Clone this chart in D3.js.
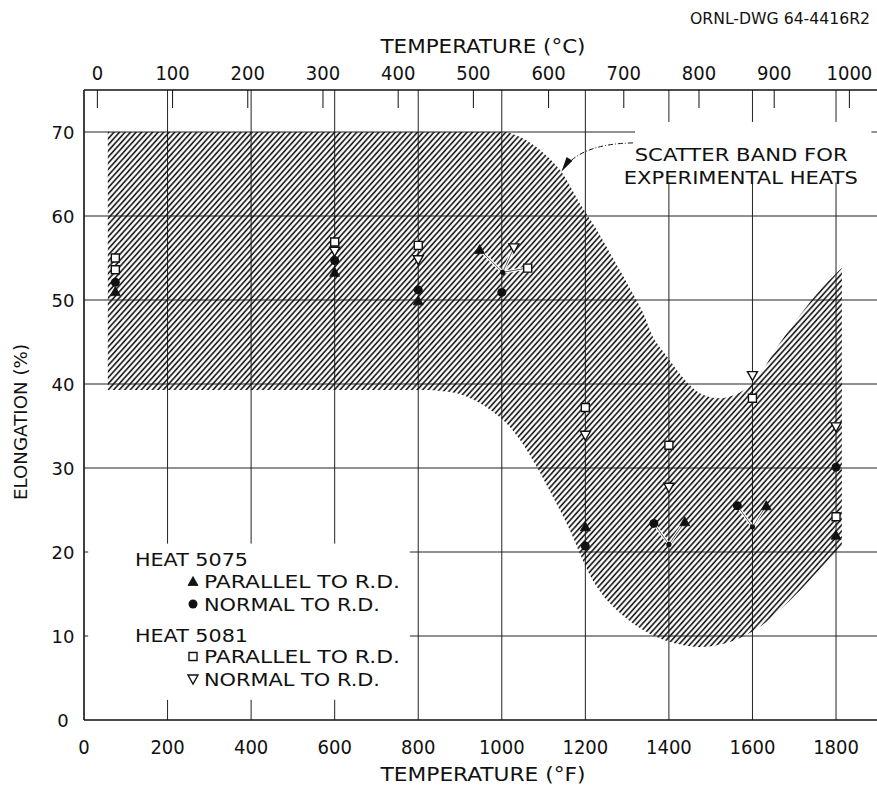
<!DOCTYPE html>
<html><head><meta charset="utf-8">
<script src="https://cdn.jsdelivr.net/npm/d3@7"></script>
<style>
html,body{margin:0;padding:0;background:#fff;}
svg{display:block;}
.num{font-family:"Liberation Sans Narrow","DejaVu Sans Condensed","DejaVu Sans",sans-serif;font-stretch:condensed;fill:#111;}
.lbl{font-family:"DejaVu Sans","Liberation Sans",sans-serif;fill:#111;}
</style></head>
<body>
<svg id="c" width="877" height="789"></svg>
<script>
// ---------- data ----------
const fTicks = [0,200,400,600,800,1000,1200,1400,1600,1800];
const cTicks = [0,100,200,300,400,500,600,700,800,900,1000];
const eTicks = [0,10,20,30,40,50,60,70];

// Heat 5075 parallel to R.D. (filled triangle) [temp °F as plotted, elongation %]
const h5075Par = [[75,51.0],[600,53.3],[800,49.9],[947,56.0],[1200,23.0],[1438,23.6],[1633,25.5],[1800,22.0]];
// Heat 5075 normal to R.D. (filled circle)
const h5075Nor = [[75,52.1],[600,54.7],[800,51.2],[1000,50.9],[1200,20.7],[1364,23.4],[1564,25.5],[1800,30.1]];
// Heat 5081 parallel to R.D. (open square)
const h5081Par = [[75,55.0],[75,53.6],[600,56.9],[800,56.5],[1062,53.8],[1200,37.2],[1400,32.7],[1600,38.3],[1800,24.2]];
// Heat 5081 normal to R.D. (open down triangle)
const h5081Nor = [[600,55.8],[800,54.8],[1029,56.2],[1200,33.9],[1400,27.7],[1600,41.0],[1800,34.9]];

// true locations of displaced points and the displaced symbols leading to them
const leaderDots = [[1002,53.3],[1400,20.9],[1600,23.0]];
const leaderFrom = [[[947,56.0],[1029,56.2],[1062,53.8]],[[1364,23.4],[1438,23.6]],[[1564,25.5],[1633,25.5]]];

// scatter band outline: flat box part + curved upper edge + right edge + curved lower edge
const bandTopFlat = [[57,70],[1010,70]];
const bandUpper = [[1010,70],[1044,69.4],[1091,67.9],[1139,65.5],[1187,61.5],[1228,58.3],[1259,55.6],[1300,52.0],[1338,48.5],[1362,45.6],[1398,43.1],[1438,40.5],[1474,38.9],[1522,38.3],[1570,39.0],[1611,40.7],[1654,44.0],[1714,48.2],[1762,51.2],[1814,53.8]];
const bandLower = [[1814,20.8],[1738,16.7],[1666,13.1],[1606,10.7],[1546,9.3],[1474,8.7],[1403,9.3],[1362,10.1],[1314,11.5],[1266,13.5],[1228,15.8],[1194,19.0],[1163,22.6],[1123,26.5],[1084,30.1],[1044,33.3],[1003,35.7],[948,37.7],[893,38.9],[820,39.3]];
const bandBottomFlat = [[820,39.3],[57,39.3]];

const legendItems = [
  {head:"HEAT 5075"},
  {sym:"tri", text:"PARALLEL TO R.D."},
  {sym:"circ", text:"NORMAL TO R.D."},
  {head:"HEAT 5081"},
  {sym:"sq", text:"PARALLEL TO R.D."},
  {sym:"tdown", text:"NORMAL TO R.D."}
];

// ---------- scales ----------
const svg = d3.select("#c");
const x = d3.scaleLinear().domain([0,1900]).range([84,877.8]);
const y = d3.scaleLinear().domain([0,75]).range([720,90]);
const c2f = c => c*1.8+32;

// hatch pattern
const defs = svg.append("defs");
const pat = defs.append("pattern").attr("id","hatch").attr("patternUnits","userSpaceOnUse")
  .attr("width",4.1).attr("height",10).attr("patternTransform","rotate(42)");
pat.append("line").attr("x1",1).attr("x2",1).attr("y1",-2).attr("y2",12)
  .attr("stroke","#111").attr("stroke-width",1.6);

const gridColor = "#222";
// gridlines
svg.append("g").selectAll("line").data(fTicks.filter(d=>d>0)).join("line")
  .attr("x1",d=>x(d)).attr("x2",d=>x(d)).attr("y1",y(75)).attr("y2",y(0))
  .attr("stroke",gridColor).attr("stroke-width",1);
svg.append("g").selectAll("line").data(eTicks.filter(d=>d>0)).join("line")
  .attr("x1",x(0)).attr("x2",x(1900)).attr("y1",d=>y(d)).attr("y2",d=>y(d))
  .attr("stroke",gridColor).attr("stroke-width",1);

// scatter band
const straight = d3.line().x(d=>x(d[0])).y(d=>y(d[1]));
const curved = d3.line().x(d=>x(d[0])).y(d=>y(d[1])).curve(d3.curveCatmullRom.alpha(0.5));
const bandD = straight(bandTopFlat)
  + curved(bandUpper).replace(/^M/,"L")
  + curved(bandLower).replace(/^M/,"L")
  + straight(bandBottomFlat).replace(/^M/,"L") + "Z";
svg.append("path").attr("d", bandD).attr("fill","url(#hatch)").attr("stroke","none");

// legend white box
svg.append("rect").attr("x",x(10)).attr("y",y(21)).attr("width",x(780)-x(10)).attr("height",y(2.4)-y(21)).attr("fill","#fff");

// frame
svg.append("line").attr("x1",x(0)).attr("x2",x(0)).attr("y1",y(75)).attr("y2",y(0)).attr("stroke","#111").attr("stroke-width",1.6);
svg.append("line").attr("x1",x(0)).attr("x2",x(1900)).attr("y1",y(0)).attr("y2",y(0)).attr("stroke","#111").attr("stroke-width",1.6);
svg.append("line").attr("x1",x(0)).attr("x2",x(1900)).attr("y1",y(75)).attr("y2",y(75)).attr("stroke","#111").attr("stroke-width",1.6);
// top °C ticks
svg.append("g").selectAll("line").data(cTicks).join("line")
  .attr("x1",d=>x(c2f(d))).attr("x2",d=>x(c2f(d))).attr("y1",y(75)).attr("y2",y(75)+18)
  .attr("stroke","#111").attr("stroke-width",1);

// tick labels
svg.append("g").selectAll("text").data(fTicks).join("text").attr("class","num")
  .attr("x",d=>x(d)).attr("y",754).attr("text-anchor","middle").attr("font-size",20).text(d=>d);
svg.append("g").selectAll("text").data(cTicks).join("text").attr("class","num")
  .attr("x",d=>x(c2f(d))).attr("y",80).attr("text-anchor","middle").attr("font-size",20).text(d=>d);
svg.append("g").selectAll("text").data(eTicks).join("text").attr("class","lbl")
  .attr("x",63).attr("y",d=>y(d)+7).attr("text-anchor","middle").attr("font-size",18).text(d=>d);

// titles
svg.append("text").attr("class","num").attr("x",483).attr("y",781).attr("text-anchor","middle")
  .attr("font-size",20).attr("textLength",205).attr("lengthAdjust","spacingAndGlyphs").text("TEMPERATURE (°F)");
svg.append("text").attr("class","num").attr("x",483).attr("y",53).attr("text-anchor","middle")
  .attr("font-size",20).attr("textLength",205).attr("lengthAdjust","spacingAndGlyphs").text("TEMPERATURE (°C)");
svg.append("text").attr("class","lbl").attr("transform","translate(27,422) rotate(-90)").attr("text-anchor","middle")
  .attr("font-size",17).attr("textLength",156).attr("lengthAdjust","spacingAndGlyphs").text("ELONGATION (%)");
svg.append("text").attr("class","num").attr("x",870).attr("y",24).attr("text-anchor","end")
  .attr("font-size",16).attr("textLength",180).attr("lengthAdjust","spacingAndGlyphs").text("ORNL-DWG 64-4416R2");

// annotation
const annoStart = [1314,68.7], annoCtrl = [1185,68.6], annoTip = [1143,65.3];
const p0=[x(annoStart[0]),y(annoStart[1])], pc=[x(annoCtrl[0]),y(annoCtrl[1])], pt=[x(annoTip[0]),y(annoTip[1])];
svg.append("rect").attr("x",x(1314)+2).attr("y",y(71.2)).attr("width",x(1880)-x(1314)).attr("height",y(64)-y(71.2)).attr("fill","#fff");
svg.append("path").attr("d",`M${p0[0]},${p0[1]} Q${pc[0]},${pc[1]} ${pt[0]},${pt[1]}`)
  .attr("fill","none").attr("stroke","#111").attr("stroke-width",1).attr("stroke-dasharray","5,2,1,2");
{
  const dx=pt[0]-pc[0], dy=pt[1]-pc[1], L=Math.hypot(dx,dy), ux=dx/L, uy=dy/L;
  const bx=pt[0]-ux*15, by=pt[1]-uy*15, nx=-uy, ny=ux;
  svg.append("path").attr("d",`M${pt[0]},${pt[1]} L${bx+nx*3.5},${by+ny*3.5} L${bx-nx*3.5},${by-ny*3.5} Z`).attr("fill","#111");
}
svg.append("text").attr("class","lbl").attr("x",x(1318)).attr("y",y(66.6)).attr("font-size",18)
  .attr("textLength",213).attr("lengthAdjust","spacingAndGlyphs").text("SCATTER BAND FOR");
svg.append("text").attr("class","lbl").attr("x",x(1292)).attr("y",y(63.8)).attr("font-size",18)
  .attr("textLength",234).attr("lengthAdjust","spacingAndGlyphs").text("EXPERIMENTAL HEATS");

// leader lines
leaderFrom.forEach((arr,i)=>{
  svg.append("g").selectAll("line").data(arr).join("line")
    .attr("x1",d=>x(d[0])).attr("y1",d=>y(d[1])).attr("x2",x(leaderDots[i][0])).attr("y2",y(leaderDots[i][1]))
    .attr("stroke","#fff").attr("stroke-width",3);
  svg.append("g").selectAll("line").data(arr).join("line")
    .attr("x1",d=>x(d[0])).attr("y1",d=>y(d[1])).attr("x2",x(leaderDots[i][0])).attr("y2",y(leaderDots[i][1]))
    .attr("stroke","#333").attr("stroke-width",0.8);
});
svg.append("g").selectAll("circle").data(leaderDots).join("circle")
  .attr("cx",d=>x(d[0])).attr("cy",d=>y(d[1])).attr("r",2.6).attr("fill","#111");

// symbols
function symPath(type, cx, cy){
  const s=5;
  if(type==="tri") return `M${cx},${cy-s} L${cx+s},${cy+s*0.8} L${cx-s},${cy+s*0.8} Z`;
  if(type==="tdown") return `M${cx-s},${cy-s*0.8} L${cx+s},${cy-s*0.8} L${cx},${cy+s} Z`;
  if(type==="sq") return `M${cx-4},${cy-4} h8 v8 h-8 Z`;
  return null;
}
function drawSym(g, type, cx, cy){
  if(type==="circ"){
    g.append("circle").attr("cx",cx).attr("cy",cy).attr("r",4.5).attr("fill","#111");
  } else {
    const open = (type==="sq"||type==="tdown");
    g.append("path").attr("d",symPath(type,cx,cy))
      .attr("fill",open?"#fff":"#111").attr("stroke","#111").attr("stroke-width",open?1.4:0.8)
      .attr("stroke-linejoin","miter");
  }
}
const gp = svg.append("g");
h5075Par.forEach(d=>drawSym(gp,"tri",x(d[0]),y(d[1])));
h5075Nor.forEach(d=>drawSym(gp,"circ",x(d[0]),y(d[1])));
h5081Par.forEach(d=>drawSym(gp,"sq",x(d[0]),y(d[1])));
h5081Nor.forEach(d=>drawSym(gp,"tdown",x(d[0]),y(d[1])));

// legend
const lg = svg.append("g");
const rowY = [559,581.5,604,635,656.5,679];
legendItems.forEach((it,i)=>{
  if(it.head){
    lg.append("text").attr("class","lbl").attr("x",135).attr("y",rowY[i]+6.5).attr("font-size",17.5)
      .attr("textLength",113).attr("lengthAdjust","spacingAndGlyphs").text(it.head);
  } else {
    drawSym(lg, it.sym, 193, rowY[i]);
    lg.append("text").attr("class","lbl").attr("x",204).attr("y",rowY[i]+6.5).attr("font-size",17.5)
      .attr("textLength",it.text.startsWith("PAR")?196:176).attr("lengthAdjust","spacingAndGlyphs").text(it.text);
  }
});
</script>
</body></html>
